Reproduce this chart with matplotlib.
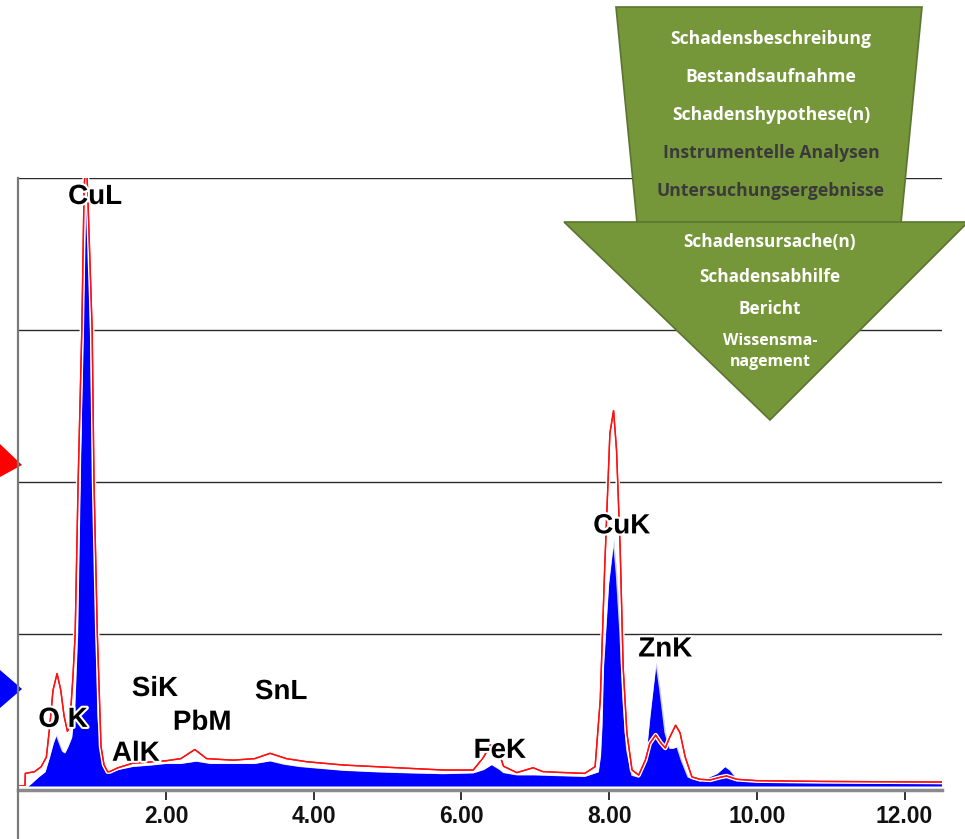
import matplotlib
matplotlib.use("Agg")
import matplotlib.pyplot as plt
import matplotlib.patheffects as pe
from matplotlib.patches import Polygon
from matplotlib.lines import Line2D

# ---------------- data ----------------
blue_energy = [0.00, 0.12, 0.13, 0.18, 0.27, 0.36, 0.42, 0.47, 0.515, 0.56, 0.60, 0.63, 0.67, 0.72,
               0.76, 0.80, 0.835, 0.87, 0.907, 0.93, 0.953, 0.98, 1.015, 1.06, 1.08, 1.12, 1.17,
               1.24, 1.35, 1.55, 1.80, 2.00, 2.20, 2.41, 2.60, 2.91, 3.20, 3.41, 3.60, 3.81, 4.04,
               4.40, 4.85, 5.30, 5.76, 6.16, 6.30, 6.41, 6.52, 6.57, 6.75, 7.00, 7.30, 7.67, 7.85,
               7.88, 7.90, 7.92, 7.99, 8.06, 8.10, 8.15, 8.19, 8.24, 8.31, 8.40, 8.49, 8.55, 8.635,
               8.69, 8.76, 8.82, 8.87, 8.92, 8.98, 9.07, 9.23, 9.46, 9.57, 9.64, 9.73, 10.0, 11.0, 12.5]
blue_counts = [0.0, 0.0, 0.0, 0.02, 0.06, 0.094, 0.19, 0.28, 0.34, 0.28, 0.23, 0.22, 0.26, 0.32,
               0.50, 1.0, 2.0, 3.0, 3.9, 4.15, 3.9, 3.0, 2.0, 1.0, 0.46, 0.24, 0.12,
               0.09, 0.11, 0.13, 0.14, 0.15, 0.15, 0.165, 0.15, 0.15, 0.15, 0.167, 0.145, 0.13, 0.12,
               0.105, 0.095, 0.088, 0.083, 0.088, 0.11, 0.143, 0.11, 0.09, 0.075, 0.075, 0.07, 0.065, 0.094,
               0.2, 0.4, 0.78, 1.33, 1.62, 1.40, 1.0, 0.57, 0.24, 0.072, 0.06, 0.17, 0.46, 0.82,
               0.63, 0.35, 0.25, 0.25, 0.26, 0.17, 0.06, 0.035, 0.083, 0.13, 0.105, 0.05, 0.03, 0.025, 0.018]

red_energy = [0.00, 0.09, 0.095, 0.22, 0.31, 0.38, 0.425, 0.47, 0.525, 0.575, 0.62, 0.665, 0.695, 0.74,
              0.77, 0.81, 0.86, 0.89, 0.915, 0.94, 1.00, 1.025, 1.07, 1.12, 1.16, 1.21, 1.24, 1.35,
              1.55, 2.00, 2.20, 2.39, 2.55, 2.91, 3.20, 3.41, 3.63, 3.90, 4.40, 4.85, 5.30, 5.76,
              6.16, 6.30, 6.39, 6.44, 6.48, 6.57, 6.75, 6.97, 7.10, 7.30, 7.67, 7.81, 7.88, 7.94,
              8.01, 8.06, 8.10, 8.15, 8.19, 8.24, 8.31, 8.40, 8.49, 8.55, 8.63, 8.69, 8.76, 8.82,
              8.90, 8.96, 9.03, 9.12, 9.23, 9.37, 9.50, 9.59, 9.73, 10.0, 10.9, 12.5]
red_counts = [0.0, 0.0, 0.083, 0.094, 0.127, 0.19, 0.39, 0.63, 0.74, 0.63, 0.46, 0.36, 0.39, 0.72,
              1.0, 2.0, 3.0, 3.9, 4.2, 3.9, 3.0, 2.0, 1.0, 0.26, 0.14, 0.094, 0.095, 0.12,
              0.15, 0.166, 0.18, 0.24, 0.18, 0.17, 0.18, 0.215, 0.18, 0.16, 0.138, 0.127, 0.116, 0.105,
              0.105, 0.19, 0.27, 0.25, 0.26, 0.13, 0.088, 0.12, 0.095, 0.09, 0.083, 0.127, 0.57, 1.44,
              2.32, 2.47, 2.21, 1.55, 0.78, 0.35, 0.105, 0.072, 0.17, 0.28, 0.335, 0.29, 0.25, 0.32,
              0.40, 0.35, 0.19, 0.06, 0.044, 0.04, 0.057, 0.066, 0.044, 0.035, 0.03, 0.026]

peak_labels = ["CuL", "O K", "SiK", "AlK", "PbM", "SnL", "FeK", "CuK", "ZnK"]
peak_label_energy = [1.04, 0.605, 1.85, 1.59, 2.49, 3.56, 6.52, 8.17, 8.76]
peak_label_height = [3.875, 0.435, 0.638, 0.212, 0.416, 0.618, 0.231, 1.708, 0.898]

x_ticks = [2, 4, 6, 8, 10, 12]
x_tick_labels = ["2.00", "4.00", "6.00", "8.00", "10.00", "12.00"]

funnel_top_lines = ["Schadensbeschreibung", "Bestandsaufnahme", "Schadenshypothese(n)",
                    "Instrumentelle Analysen", "Untersuchungsergebnisse"]
funnel_bottom_lines = ["Schadensursache(n)", "Schadensabhilfe", "Bericht", "Wissensma-", "nagement"]

# ---------------- figure ----------------
W, H = 965, 839
fig = plt.figure(figsize=(W / 100, H / 100), dpi=100)
fig.patch.set_facecolor("white")


def fx(px):
    return px / W


def fy(py):
    return 1 - py / H


ax_left, ax_right, ax_top, ax_bottom = 18.3, 941.5, 178, 786
ax = fig.add_axes([fx(ax_left), fy(ax_bottom), (ax_right - ax_left) / W, (ax_bottom - ax_top) / H])
ax.set_xlim(0, 12.5)
ax.set_ylim(0, 4)
ax.set_facecolor("none")

for s in ["top", "right", "left"]:
    ax.spines[s].set_visible(False)
ax.spines["bottom"].set_position(("outward", 3))
ax.spines["bottom"].set_color("#8a8a8a")
ax.spines["bottom"].set_linewidth(2.5)

ax.set_yticks([1, 2, 3, 4])
ax.set_yticklabels([])
ax.tick_params(axis="y", length=0)
ax.grid(axis="y", color="#2a2a2a", linewidth=1.0, zorder=0)
ax.set_axisbelow(True)

ax.set_xticks(x_ticks)
ax.set_xticklabels(x_tick_labels, fontsize=16.5, fontweight="bold", family="Liberation Sans", color="#111111")
ax.tick_params(axis="x", direction="out", length=7, width=1.3, color="#222222", pad=4)

# blue spectrum
ax.fill_between(blue_energy, 0, blue_counts, color="#0000ff", linewidth=0, zorder=2)
ax.plot(blue_energy, blue_counts, color="#ffffff", linewidth=1.2, alpha=0.8, zorder=2.5)
# red spectrum
ax.plot(red_energy, red_counts, color="#ff1010", linewidth=1.0, zorder=3,
        path_effects=[pe.withStroke(linewidth=3.2, foreground="white"), pe.Normal()])

for lab, e, v in zip(peak_labels, peak_label_energy, peak_label_height):
    ax.text(e, v, lab, fontsize=20, fontweight="bold", family="Liberation Sans", color="black",
            ha="center", va="center", zorder=5, clip_on=False,
            path_effects=[pe.withStroke(linewidth=3, foreground="white")])

# left axis line extended to bottom of image
fig.add_artist(Line2D([fx(17.5), fx(17.5)], [fy(178), fy(839)], color="#7a7a7a", linewidth=1.6))

# arrows at left edge
fig.add_artist(Polygon([(fx(0), fy(444)), (fx(22), fy(465)), (fx(0), fy(477))],
                       closed=True, facecolor="#ff0000", edgecolor="none"))
fig.add_artist(Polygon([(fx(0), fy(670)), (fx(22), fy(689)), (fx(0), fy(708))],
                       closed=True, facecolor="#0000ff", edgecolor="none"))

# funnel diagram
green = "#76963a"
edge = "#5b7530"
trap = [(616, 7), (922, 7), (901, 223), (637, 223)]
tri = [(564, 222), (968, 222), (770, 420)]
fig.add_artist(Polygon([(fx(x), fy(y)) for x, y in trap], closed=True,
                       facecolor=green, edgecolor=edge, linewidth=1.2, zorder=10))
fig.add_artist(Polygon([(fx(x), fy(y)) for x, y in tri], closed=True,
                       facecolor=green, edgecolor=edge, linewidth=1.2, zorder=10))

top_y = [39, 77, 115, 153, 191]
top_col = ["white", "white", "white", "#3a3a3a", "#3a3a3a"]
for t, y, c in zip(funnel_top_lines, top_y, top_col):
    fig.text(fx(771), fy(y), t, fontsize=12.6, fontweight="bold", family="Open Sans",
             color=c, ha="center", va="center", zorder=11)
bot_y = [242, 277, 309, 341, 362]
for t, y in zip(funnel_bottom_lines, bot_y):
    fig.text(fx(770), fy(y), t, fontsize=12.4 if y < 330 else 11.4, fontweight="bold",
             family="Open Sans", color="white", ha="center", va="center", zorder=11)

fig.savefig("out.png", dpi=100, facecolor="white")
